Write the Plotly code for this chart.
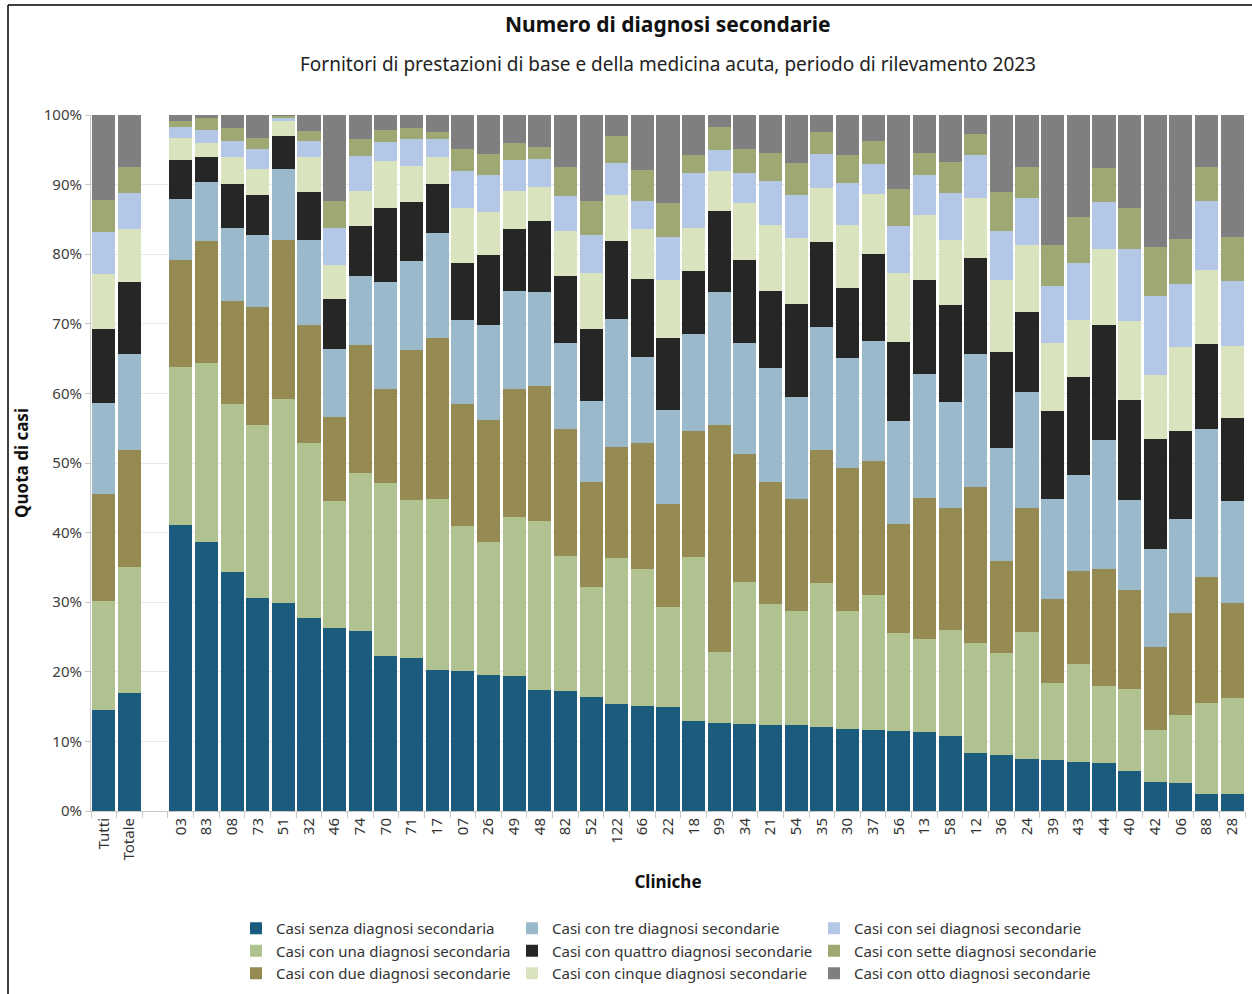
import plotly.graph_objects as go

FONT = "Noto Sans"

categories = ["Tutti", "Totale", "03", "83", "08", "73", "51", "32", "46", "74", "70", "71",
              "17", "07", "26", "49", "48", "82", "52", "122", "66", "22",
              "18", "99", "34", "21", "54", "35", "30", "37", "56", "13",
              "58", "12", "36", "24", "39", "43", "44", "40", "42", "06", "88", "28"]
gap_label = " "
axis_order = categories[:2] + [gap_label] + categories[2:]

series_names = [
    "Casi senza diagnosi secondaria",
    "Casi con una diagnosi secondaria",
    "Casi con due diagnosi secondarie",
    "Casi con tre diagnosi secondarie",
    "Casi con quattro diagnosi secondarie",
    "Casi con cinque diagnosi secondarie",
    "Casi con sei diagnosi secondarie",
    "Casi con sette diagnosi secondarie",
    "Casi con otto diagnosi secondarie",
]
series_colors = ["#1b5c7e", "#b0c290", "#948a52", "#9ab9cb", "#262626",
                 "#d9e4bf", "#b4c7e7", "#9ea872", "#7f7f7f"]

s0 = [14.5, 17.0, 41.1, 38.6, 34.3, 30.6, 29.9, 27.8, 26.3, 25.9, 22.2, 22.0, 20.2, 20.1, 19.5, 19.4, 17.4, 17.2, 16.4, 15.4, 15.1, 14.9, 12.9, 12.7, 12.5, 12.4, 12.3, 12.0, 11.8, 11.7, 11.5, 11.4, 10.8, 8.4, 8.1, 7.5, 7.3, 7.1, 6.9, 5.8, 4.2, 4.0, 2.4, 2.4]
s1 = [15.7, 18.1, 22.7, 25.7, 24.2, 24.8, 29.3, 25.1, 18.3, 22.6, 24.9, 22.7, 24.6, 20.8, 19.1, 22.8, 24.3, 19.5, 15.8, 21.0, 19.6, 14.4, 23.6, 10.2, 20.4, 17.4, 16.4, 20.8, 16.9, 19.4, 14.1, 13.3, 15.2, 15.7, 14.6, 18.2, 11.1, 14.0, 11.1, 11.7, 7.4, 9.8, 13.1, 13.8]
s2 = [15.3, 16.8, 15.4, 17.6, 14.8, 17.0, 22.8, 16.9, 12.0, 18.4, 13.5, 21.6, 23.2, 17.6, 17.6, 18.4, 19.3, 18.2, 15.0, 15.9, 18.2, 14.8, 18.1, 32.5, 18.4, 17.4, 16.1, 19.0, 20.6, 19.2, 15.6, 20.3, 17.5, 22.4, 13.2, 17.8, 12.1, 13.4, 16.8, 14.3, 11.9, 14.6, 18.1, 13.7]
s3 = [13.1, 13.8, 8.7, 8.5, 10.4, 10.3, 10.3, 12.2, 9.8, 9.9, 15.4, 12.7, 15.0, 12.0, 13.6, 14.1, 13.6, 12.4, 11.7, 18.4, 12.4, 13.5, 14.0, 19.1, 16.0, 16.4, 14.7, 17.8, 15.8, 17.3, 14.9, 17.8, 15.3, 19.2, 16.2, 16.7, 14.3, 13.8, 18.5, 12.9, 14.1, 13.6, 21.3, 14.6]
s4 = [10.6, 10.3, 5.6, 3.5, 6.4, 5.8, 4.7, 7.0, 7.2, 7.3, 10.7, 8.5, 7.1, 8.2, 10.1, 8.9, 10.1, 9.6, 10.4, 11.2, 11.2, 10.3, 9.0, 11.7, 11.8, 11.1, 13.3, 12.1, 10.0, 12.5, 11.3, 13.5, 13.9, 13.8, 13.8, 11.5, 12.7, 14.0, 16.6, 14.3, 15.8, 12.6, 12.2, 11.9]
s5 = [7.9, 7.6, 3.2, 2.1, 3.8, 3.7, 2.2, 4.9, 4.9, 5.0, 6.7, 5.2, 3.8, 8.0, 6.2, 5.5, 4.9, 6.5, 8.0, 6.6, 7.1, 8.4, 6.2, 5.7, 8.3, 9.5, 9.6, 7.8, 9.1, 8.5, 9.9, 9.3, 9.4, 8.6, 10.4, 9.6, 9.7, 8.3, 10.8, 11.4, 9.2, 12.1, 10.7, 10.4]
s6 = [6.1, 5.2, 1.6, 1.8, 2.4, 2.9, 0.4, 2.3, 5.2, 5.0, 2.7, 3.9, 2.6, 5.3, 5.3, 4.4, 4.1, 5.0, 5.5, 4.6, 4.0, 6.2, 7.8, 3.1, 4.3, 6.3, 6.1, 4.9, 6.0, 4.3, 6.7, 5.8, 6.7, 6.2, 7.1, 6.8, 8.3, 8.2, 6.8, 10.4, 11.4, 9.0, 9.8, 9.4]
s7 = [4.6, 3.8, 0.8, 1.8, 1.8, 1.6, 0.3, 1.5, 3.9, 2.4, 1.8, 1.5, 1.0, 3.1, 3.0, 2.5, 1.7, 4.2, 4.8, 3.9, 4.5, 4.9, 2.6, 3.3, 3.4, 4.1, 4.6, 3.1, 4.1, 3.4, 5.3, 3.1, 4.5, 3.0, 5.5, 4.5, 5.8, 6.6, 4.9, 5.9, 7.1, 6.5, 5.0, 6.3]
s8 = [12.2, 7.4, 0.9, 0.4, 1.9, 3.3, 0.1, 2.3, 12.4, 3.5, 2.1, 1.9, 2.5, 4.9, 5.6, 4.0, 4.6, 7.4, 12.4, 3.0, 7.9, 12.6, 5.8, 1.7, 4.9, 5.4, 6.9, 2.5, 5.7, 3.7, 10.7, 5.5, 6.7, 2.7, 11.1, 7.4, 18.7, 14.6, 7.6, 13.3, 18.9, 17.8, 7.4, 17.5]

series_values = [s0, s1, s2, s3, s4, s5, s6, s7, s8]

# pixel geometry of the plot area
W, H = 1252, 994
ML, MR, MT, MB = 91, 7, 115, 183
PW = W - ML - MR
PH = H - MT - MB

def px_x(p):
    return (p - ML) / PW

def px_y(p):
    return (H - MB - p) / PH

legend_of = ["legend", "legend", "legend", "legend2", "legend2", "legend2", "legend3", "legend3", "legend3"]

fig = go.Figure()
for i, (name, vals, col) in enumerate(zip(series_names, series_values, series_colors)):
    fig.add_trace(go.Bar(
        x=categories, y=vals, name=name,
        marker=dict(color=col, line=dict(width=0)),
        legend=legend_of[i],
        hovertemplate="%{x}: %{y:.1f}%<extra>" + name + "</extra>",
    ))

legend_common = dict(
    orientation="v", yanchor="middle", xanchor="left", traceorder="normal",
    font=dict(family=FONT, size=15, color="#333333"),
    bgcolor="rgba(0,0,0,0)", tracegroupgap=0, itemclick=False,
)
leg_y = px_y(951)
fig.update_layout(
    width=W, height=H,
    barmode="stack", bargap=0.1,
    plot_bgcolor="white", paper_bgcolor="white",
    margin=dict(l=ML, r=MR, t=MT, b=MB, autoexpand=False),
    font=dict(family=FONT, color="#333333"),
    legend=dict(x=px_x(236), y=leg_y, **legend_common),
    legend2=dict(x=px_x(512), y=leg_y, **legend_common),
    legend3=dict(x=px_x(814), y=leg_y, **legend_common),
    xaxis=dict(
        type="category", categoryorder="array", categoryarray=axis_order,
        range=[-0.5, len(axis_order) - 0.5],
        tickangle=-90, tickfont=dict(family=FONT, size=15, color="#333333"),
        ticks="outside", tickson="boundaries", ticklen=6, tickcolor="#c8c8c8",
        showline=True, linecolor="#c8c8c8", linewidth=1,
        showgrid=False,
        title=dict(text="<b>Cliniche</b>", font=dict(family=FONT, size=17, color="#111111"), standoff=16),
    ),
    yaxis=dict(
        range=[0, 100], dtick=10, ticksuffix="%",
        tickfont=dict(family=FONT, size=15, color="#404040"),
        ticks="outside", ticklen=5, tickcolor="#c8c8c8",
        showline=True, linecolor="#c8c8c8", linewidth=1,
        showgrid=True, gridcolor="#e8e8e8", gridwidth=1,
        zeroline=False,
        title=dict(text="<b>Quota di casi</b>", font=dict(family=FONT, size=17, color="#111111"), standoff=10),
    ),
    annotations=[
        dict(text="<b>Numero di diagnosi secondarie</b>", xref="paper", yref="paper",
             x=0.5, y=px_y(24), xanchor="center", yanchor="middle", showarrow=False,
             font=dict(family=FONT, size=21, color="#111111")),
        dict(text="Fornitori di prestazioni di base e della medicina acuta, periodo di rilevamento 2023",
             xref="paper", yref="paper", x=0.5, y=px_y(64), xanchor="center", yanchor="middle",
             showarrow=False, font=dict(family=FONT, size=19, color="#222222")),
    ],
    shapes=[
        dict(type="line", xref="paper", yref="paper", x0=px_x(8), x1=px_x(8), y0=px_y(5), y1=px_y(1000),
             line=dict(color="#000000", width=1.5)),
        dict(type="line", xref="paper", yref="paper", x0=px_x(8), x1=px_x(1260), y0=px_y(5), y1=px_y(5),
             line=dict(color="#000000", width=1.5)),
    ],
)

fig.write_html("out.html", config={"displayModeBar": False},
               post_script="document.body.style.margin='0px';document.body.style.overflow='hidden';")
